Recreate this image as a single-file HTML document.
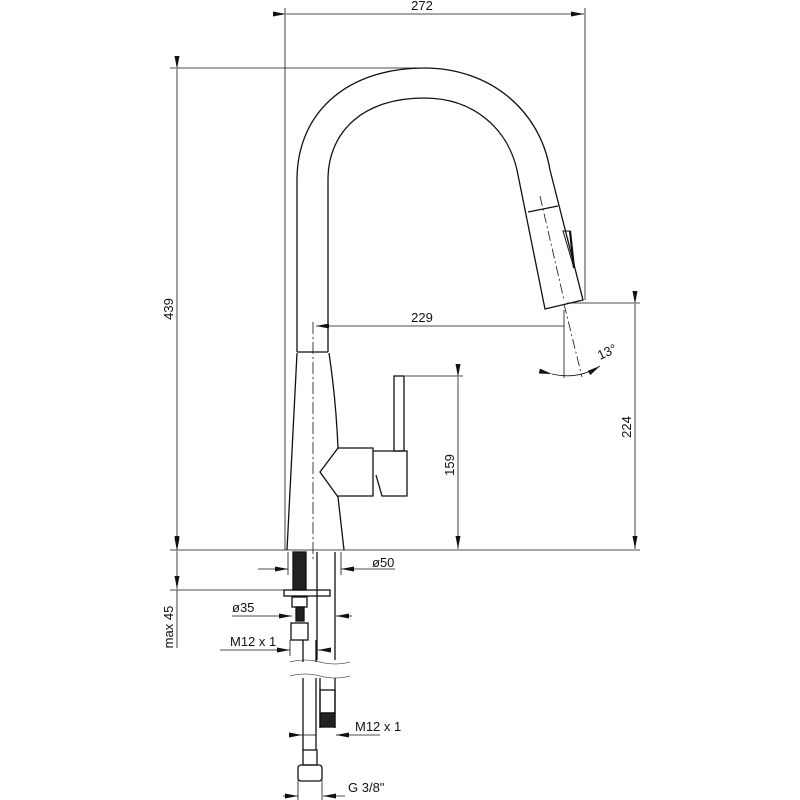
<!DOCTYPE html>
<html><head><style>body{margin:0;background:#fff}svg{display:block}text{font-family:"Liberation Sans",sans-serif;font-size:13px;fill:#111}</style></head><body>
<svg width="800" height="800" viewBox="0 0 800 800" fill="none" stroke="#111" stroke-width="1.3">
<defs><marker id="a" markerWidth="13" markerHeight="5" refX="13" refY="2.5" orient="auto" markerUnits="userSpaceOnUse"><path d="M0,0 L13,2.5 L0,5z" fill="#111" stroke="none"/></marker></defs>
<g stroke-width="0.8">
<line x1="285" y1="8" x2="285" y2="550"/><line x1="585" y1="8" x2="585" y2="300"/>
<line x1="286" y1="14" x2="584" y2="14" marker-start="url(#a)" marker-end="url(#a)"/>
<line x1="170" y1="68" x2="424" y2="68"/>
<line x1="177" y1="69" x2="177" y2="549" marker-start="url(#a)" marker-end="url(#a)"/>
<line x1="170" y1="550" x2="640" y2="550"/>
<line x1="567" y1="303" x2="640" y2="303"/>
<line x1="635" y1="304" x2="635" y2="549" marker-start="url(#a)" marker-end="url(#a)"/>
<line x1="405" y1="376" x2="463" y2="376"/>
<line x1="458" y1="377" x2="458" y2="549" marker-start="url(#a)" marker-end="url(#a)"/>
<line x1="564" y1="326" x2="316" y2="326" marker-end="url(#a)"/><line x1="564" y1="310" x2="564" y2="378"/>
<path d="M552,374 Q578,380 600,366" marker-start="url(#a)" marker-end="url(#a)"/>
<line x1="564" y1="304" x2="582" y2="377" stroke-dasharray="10,3,2,3"/>
<line x1="540" y1="196" x2="564" y2="300" stroke-dasharray="10,3,2,3"/>
<line x1="313" y1="322" x2="313" y2="560" stroke-dasharray="12,3,2,3"/>
<line x1="170" y1="590" x2="290" y2="590"/>
<line x1="177" y1="551" x2="177" y2="589" marker-start="url(#a)" marker-end="url(#a)"/><line x1="177" y1="590" x2="177" y2="648"/>
<line x1="258" y1="569" x2="288" y2="569" marker-end="url(#a)"/><line x1="395" y1="569" x2="341" y2="569" marker-end="url(#a)"/>
<line x1="288" y1="552" x2="288" y2="575"/><line x1="341" y1="552" x2="341" y2="575"/>
<line x1="232" y1="616" x2="292" y2="616" marker-end="url(#a)"/><line x1="352" y1="616" x2="336" y2="616" marker-end="url(#a)"/>
<line x1="220" y1="650" x2="290" y2="650" marker-end="url(#a)"/><line x1="330" y1="650" x2="318" y2="650" marker-end="url(#a)"/>
<line x1="290" y1="640" x2="290" y2="656"/>
<line x1="303" y1="735" x2="316" y2="735"/><line x1="380" y1="735" x2="336" y2="735" marker-end="url(#a)"/><line x1="289" y1="735" x2="302" y2="735" marker-end="url(#a)"/>
<line x1="283" y1="796" x2="298" y2="796" marker-end="url(#a)"/><line x1="345" y1="796" x2="323" y2="796" marker-end="url(#a)"/>
<line x1="298" y1="780" x2="298" y2="800"/><line x1="322" y1="780" x2="322" y2="800"/>
</g>
<!-- spout -->
<path d="M297,352 L297,180 C297,110 350,68 424,68 C490,68 540,110 550,170"/>
<path d="M328,352 L328,180 C328,130 365,98 424,98 C475,98 508,130 517,170"/>
<path d="M517,170 L545,309 L583,300 L550,170"/>
<line x1="528" y1="212" x2="558" y2="206"/>
<path d="M563,231 L570,231 L574,268 Z" stroke-width="1"/><line x1="570" y1="231" x2="574" y2="268" stroke-width="2.2"/>
<!-- body -->
<line x1="297" y1="352" x2="328" y2="352"/>
<path d="M297,353 L287,550"/><path d="M329,353 Q336,400 338,448 L320,472 L338,497 L344,550"/>
<path d="M338,448 L373,448 L373,496 L338,496"/>
<path d="M373,451 L407,451 L407,496 L382,496 L376,475"/>
<rect x="394" y="376" width="10" height="75"/>
<!-- under -->
<rect x="293" y="552" width="13" height="38" fill="#222"/>
<rect x="284" y="590" width="46" height="6"/>
<rect x="292" y="597" width="15" height="10"/>
<rect x="296" y="607" width="8" height="14" fill="#222"/>
<rect x="291" y="623" width="17" height="17"/>
<path d="M317,552 L317,660 M335,552 L335,660 M303,640 L303,662 M316,640 L316,662"/>
<path d="M290,662 q15,-4 30,0 t30,0 M290,676 q15,-4 30,0 t30,0" stroke-width="0.6"/>
<path d="M303,678 L303,750 M316,678 L316,750 M320,678 L320,728 M335,678 L335,728"/>
<rect x="320" y="690" width="15" height="23"/><rect x="320" y="713" width="15" height="14" fill="#222"/>
<rect x="303" y="750" width="14" height="15"/><rect x="298" y="765" width="24" height="16" rx="3"/>
<g stroke="none">
<text x="422" y="10" text-anchor="middle">272</text>
<text x="422" y="322" text-anchor="middle">229</text>
<text transform="translate(600,360) rotate(-25)">13°</text>
<text transform="translate(173,309) rotate(-90)" text-anchor="middle">439</text>
<text transform="translate(631,427) rotate(-90)" text-anchor="middle">224</text>
<text transform="translate(454,465) rotate(-90)" text-anchor="middle">159</text>
<text transform="translate(173,627) rotate(-90)" text-anchor="middle">max 45</text>
<text x="372" y="567">ø50</text>
<text x="232" y="612">ø35</text>
<text x="230" y="646">M12 x 1</text>
<text x="355" y="731">M12 x 1</text>
<text x="348" y="792">G 3/8"</text>
</g>
</svg>
</body></html>
